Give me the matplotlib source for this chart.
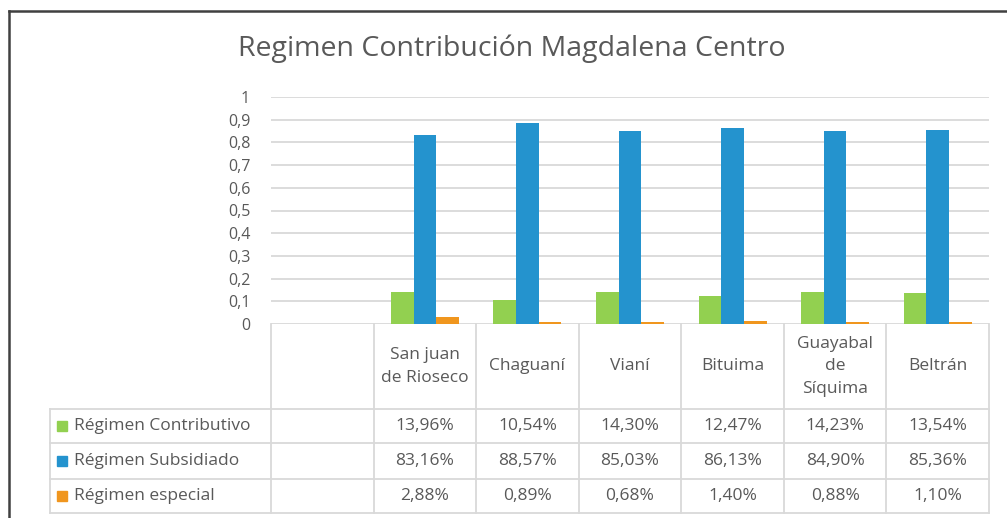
import numpy as np
import matplotlib.pyplot as plt
from matplotlib.lines import Line2D
from matplotlib.patches import Rectangle

# Data
municipios = ["San juan\nde Rioseco", "Chaguaní", "Vianí", "Bituima",
              "Guayabal\nde\nSíquima", "Beltrán"]
series_names = ["Régimen Contributivo", "Régimen Subsidiado", "Régimen especial"]
contributivo = [13.96, 10.54, 14.30, 12.47, 14.23, 13.54]
subsidiado = [83.16, 88.57, 85.03, 86.13, 84.90, 85.36]
especial = [2.88, 0.89, 0.68, 1.40, 0.88, 1.10]
y_ticks = [0, 0.1, 0.2, 0.3, 0.4, 0.5, 0.6, 0.7, 0.8, 0.9, 1]

colors = ["#92D050", "#2493CE", "#F0961E"]
text_color = "#595959"
grid_color = "#D9D9D9"
font = "Open Sans"
fs = 12.5

W, H = 1007, 518
fig = plt.figure(figsize=(W / 100, H / 100), dpi=100)

# plot area in pixels
px_left, px_right, px_top, px_bottom = 271, 989, 97, 324
ax = fig.add_axes([px_left / W, 1 - px_bottom / H,
                   (px_right - px_left) / W, (px_bottom - px_top) / H])

n_cols = len(municipios) + 1  # first column is empty
ax.set_xlim(-0.5, n_cols - 0.5)
ax.set_ylim(0, 1)

# gridlines
for t in y_ticks:
    ax.axhline(t, color=grid_color, lw=1.3, zorder=0)

# bars
x = np.arange(1, n_cols)
bw = 0.221
all_series = [contributivo, subsidiado, especial]
for i, (vals, c) in enumerate(zip(all_series, colors)):
    ax.bar(x + (i - 1) * bw, np.array(vals) / 100, width=bw, color=c, zorder=2)

for s in ax.spines.values():
    s.set_visible(False)
ax.set_xticks([])
ax.set_yticks(y_ticks)
ax.set_yticklabels([("%g" % t).replace(".", ",") for t in y_ticks],
                   fontsize=11.5, color=text_color, family=font)
ax.tick_params(axis="y", length=0, pad=15)

# data table (drawn in data coords below the axis)
px_per_unit_y = px_bottom - px_top
col_w = (px_right - px_left) / n_cols
table_left = -0.5 - (px_left - 50) / col_w


def yd(py):
    return (px_bottom - py) / px_per_unit_y


row_lines = [yd(409), yd(443), yd(479), yd(513)]
y_bottom = row_lines[-1]
line_kw = dict(color=grid_color, lw=1.3, clip_on=False, zorder=1)

for k in range(n_cols + 1):
    ax.plot([-0.5 + k, -0.5 + k], [0, y_bottom], **line_kw)
ax.plot([table_left, table_left], [row_lines[0], y_bottom], **line_kw)
for yl in row_lines:
    ax.plot([table_left, n_cols - 0.5], [yl, yl], **line_kw)

# header
hy = (0 + row_lines[0]) / 2
for xi, name in zip(x, municipios):
    ax.text(xi, hy, name, ha="center", va="center", fontsize=fs,
            color=text_color, family=font, linespacing=1.55, clip_on=False)

# rows
row_centers = [(row_lines[i] + row_lines[i + 1]) / 2 for i in range(3)]
sq = 10 / col_w
for name, vals, c, ry in zip(series_names, all_series, colors, row_centers):
    ax.add_patch(Rectangle((-0.5 - (px_left - 57) / col_w, ry - 5 / px_per_unit_y),
                           sq, 10 / px_per_unit_y, color=c, clip_on=False))
    ax.text(-0.5 - (px_left - 74) / col_w, ry, name, ha="left", va="center",
            fontsize=fs, color=text_color, family=font, clip_on=False)
    for xi, v in zip(x, vals):
        ax.text(xi, ry, ("%.2f%%" % v).replace(".", ","), ha="center",
                va="center", fontsize=fs, color=text_color, family=font,
                clip_on=False)

# title
fig.text(512 / W, 1 - 49 / H, "Regimen Contribución Magdalena Centro",
         ha="center", va="center", fontsize=20.5, color=text_color,
         family=font)

# outer frame (top and left edges visible)
fig.add_artist(Line2D([9 / W, 1], [1 - 11 / H, 1 - 11 / H], color="#404040",
                      lw=1.8, transform=fig.transFigure))
fig.add_artist(Line2D([9 / W, 9 / W], [0, 1 - 11 / H], color="#404040",
                      lw=1.8, transform=fig.transFigure))

fig.savefig("out.png", dpi=100)
